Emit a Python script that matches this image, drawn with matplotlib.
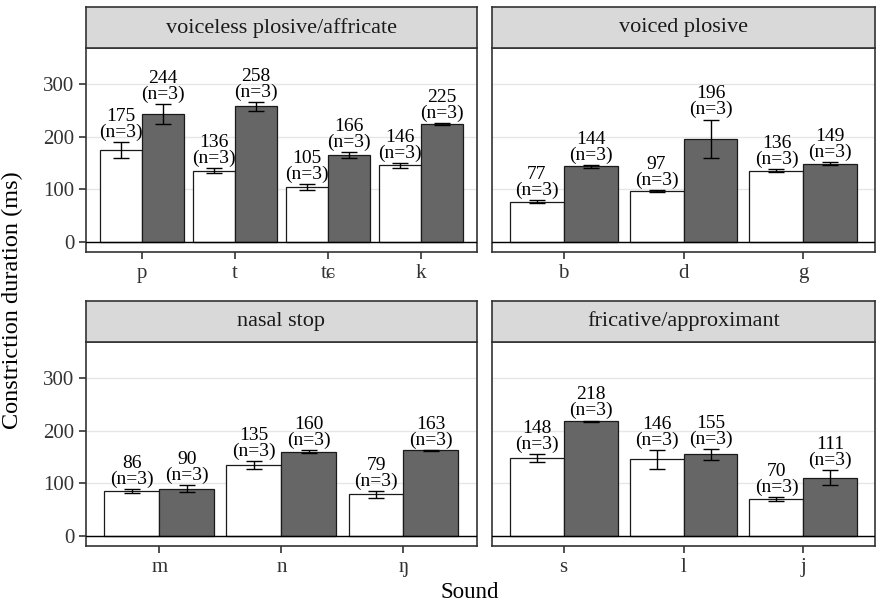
import matplotlib.pyplot as plt
import numpy as np

plt.rcParams['font.family'] = ['Liberation Serif', 'DejaVu Serif']

# data per facet
titles = ['voiceless plosive/affricate', 'voiced plosive', 'nasal stop', 'fricative/approximant']
sounds = [['p', 't', 'tɕ', 'k'], ['b', 'd', 'g'], ['m', 'n', 'ŋ'], ['s', 'l', 'j']]
white_vals = [[175, 136, 105, 146], [77, 97, 136], [86, 135, 79], [148, 146, 70]]
white_err = [[16, 5, 6, 5], [3, 2, 2], [3.5, 8, 6], [8, 18, 4]]
gray_vals = [[244, 258, 166, 225], [144, 196, 149], [90, 160, 163], [218, 155, 111]]
gray_err = [[19, 8, 6, 2], [3, 37, 3], [7, 3, 1], [1.5, 11, 15]]
n_obs = 3

fig = plt.figure(figsize=(8.78, 6.06), dpi=100)

# panel positions [left, bottom, width, height] in figure fraction
lefts = [0.098, 0.560]
widths = [0.445, 0.437]
bottoms = [0.584, 0.099]
height = 0.336
strip_h = 0.069

bw = 0.45
for i in range(4):
    r, c = divmod(i, 2)
    ax = fig.add_axes([lefts[c], bottoms[r], widths[c], height])
    x = np.arange(len(sounds[i]))
    for vals, errs, fc, off in [(white_vals[i], white_err[i], 'white', -bw / 2),
                                (gray_vals[i], gray_err[i], '#666666', bw / 2)]:
        ax.bar(x + off, vals, width=bw, color=fc, edgecolor='#1a1a1a', linewidth=0.9, zorder=3)
        ax.errorbar(x + off, vals, yerr=errs, fmt='none', ecolor='black',
                    elinewidth=1.0, capsize=6, capthick=1.0, zorder=4)
        for xi, v, e in zip(x + off, vals, errs):
            ax.text(xi, v + e + 2, f'{v}\n(n={n_obs})', ha='center', va='bottom',
                    fontsize=14, linespacing=0.9, zorder=5)
    ax.axhline(0, color='black', linewidth=1.0, zorder=3)
    ax.set_xlim(-0.6, len(x) - 0.4)
    ax.set_ylim(-19, 368)
    ax.set_xticks(x)
    ax.set_xticklabels(sounds[i], fontsize=15)
    ax.set_yticks([0, 100, 200, 300])
    ax.grid(axis='y', color='#e6e6e6', linewidth=1.0, zorder=0)
    ax.tick_params(axis='both', colors='#333333', labelcolor='#333333', width=1.2, length=5)
    if c == 0:
        ax.set_yticklabels(['0', '100', '200', '300'], fontsize=15)
    else:
        ax.set_yticklabels([])
        ax.tick_params(axis='y', length=0)
    for s in ax.spines.values():
        s.set_color('#333333')
        s.set_linewidth(1.2)

    sax = fig.add_axes([lefts[c], bottoms[r] + height, widths[c], strip_h])
    sax.set_facecolor('#d9d9d9')
    sax.set_xticks([])
    sax.set_yticks([])
    for s in sax.spines.values():
        s.set_color('#333333')
        s.set_linewidth(1.2)
    sax.text(0.5, 0.5, titles[i], ha='center', va='center', fontsize=16,
             color='#1a1a1a', transform=sax.transAxes)

fig.text(0.535, 0.005, 'Sound', ha='center', va='bottom', fontsize=16.5)
fig.text(0.002, 0.505, 'Constriction duration (ms)', ha='left', va='center',
         rotation=90, fontsize=17.5)

fig.savefig('out.png', dpi=100)
